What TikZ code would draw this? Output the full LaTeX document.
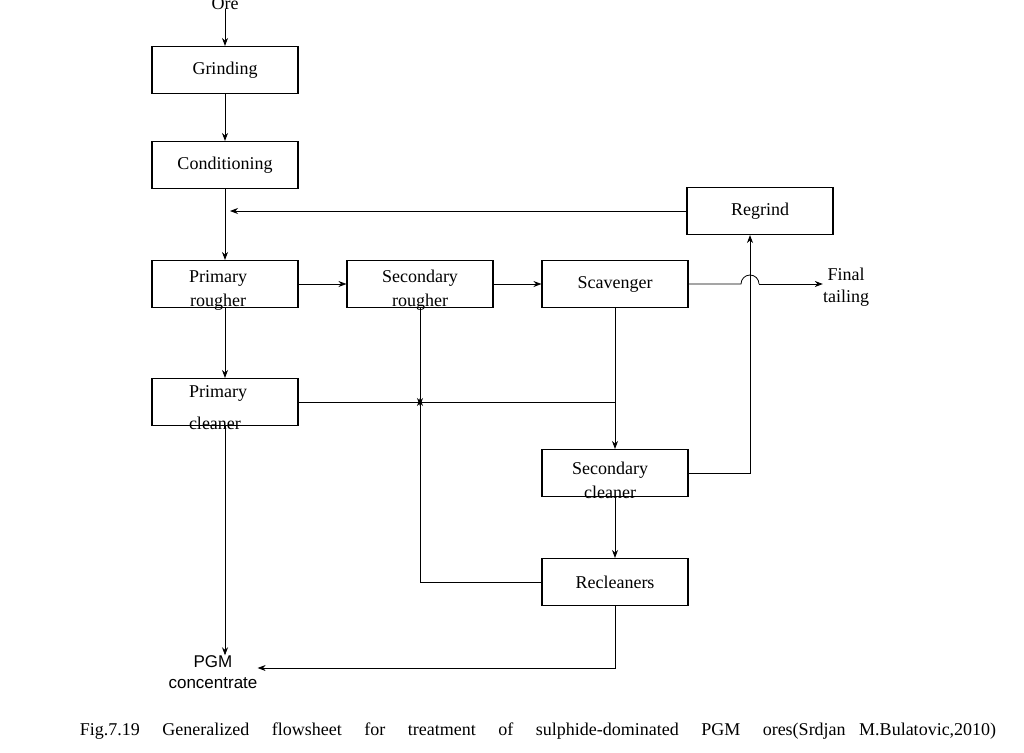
\documentclass[tikz,border=0pt]{standalone}
\usepackage{fontspec}
\setmainfont{Liberation Serif}
\newfontfamily\sansf{Liberation Sans}
\usetikzlibrary{arrows.meta}
\begin{document}
\begin{tikzpicture}[x=1pt,y=-1pt,
 box/.style={draw,line width=1.1pt,minimum width=146pt,minimum height=47pt,inner sep=0pt,font=\fontsize{18}{22}\selectfont},
 txt/.style={font=\fontsize{18}{24}\selectfont,align=center,inner sep=0pt},
 ar/.style={line width=0.8pt,-{Stealth[length=8pt,width=6pt]}},
 ln/.style={line width=0.8pt}]
\useasboundingbox (0,0) rectangle (1024,752);
\node[box] (grind) at (225,70) {Grinding};
\node[box] (cond) at (225,165) {Conditioning};
\node[box] (regr) at (760,211) {Regrind};
\node[box] (pr) at (225,284) {};
\node[txt] at (218,290) {Primary\\rougher};
\node[box] (sr) at (420,284) {};
\node[txt] at (420,290) {Secondary\\rougher};
\node[box] (sc) at (615,284) {Scavenger};
\node[box] (pc) at (225,402) {};
\node[txt,align=left,font=\fontsize{18}{32}\selectfont] at (218,408) {Primary\\cleaner};
\node[box] (scl) at (615,473) {};
\node[txt] at (610,480) {Secondary\\cleaner};
\node[box] (rc) at (615,582) {Recleaners};
\node[txt,anchor=north] (ore) at (225,-3) {Ore};
\node[txt,font=\sansf\fontsize{17}{21}\selectfont] (pgm) at (213,672) {PGM\\concentrate};
\node[txt,font=\fontsize{18}{22}\selectfont] (ft) at (846,287) {Final\\tailing};
\node[font=\fontsize{18}{20}\selectfont,inner sep=0pt] (cap) at (538,731) {Fig.7.19\ \ \ \ \ Generalized\ \ \ \ \ flowsheet\ \ \ \ \ for\ \ \ \ \ treatment\ \ \ \ \ of\ \ \ \ \ sulphide-dominated\ \ \ \ \ PGM\ \ \ \ \ ores(Srdjan\ \ \ M.Bulatovic,2010)};
\coordinate (j1) at (225,211);
\coordinate (j2) at (420,402);
\coordinate (j3) at (615,402);
\coordinate (j4) at (750,473);
\coordinate (h1) at (741,284);
\coordinate (h2) at (759,284);
\coordinate (r1) at (420,582);
\coordinate (b1) at (615,668);
\draw[ar] (ore.south) -- (grind.north);
\draw[ar] (grind) -- (cond);
\draw[ar] (cond) -- (pr);
\draw[ar] (regr.west) -- ([xshift=5pt]j1);
\draw[ar] (pr) -- (sr);
\draw[ar] (sr) -- (sc);
\draw[ln] (sc.east) -- (h1) arc[start angle=180,end angle=0,radius=9pt];
\draw[ar] (h2) -- (ft.west|-h2);
\draw[ar] (scl.east) -- (j4) -- (j4|-regr.south);
\draw[ar] (pr) -- (pc);
\draw[ln] (pc.east) -- (j3);
\draw[ar] (sr.south) -- ([yshift=-4pt]j2);
\draw[ar] (sc.south) -- (scl.north);
\draw[ar] (scl) -- (rc);
\draw[ar] (rc.west) -- (r1) -- ([yshift=4pt]j2);
\draw[ar] (pc.south) -- (pc.south|-pgm.north);
\draw[ar] (rc.south) -- (b1) -- (pgm.east|-b1);
\end{tikzpicture}
\end{document}
